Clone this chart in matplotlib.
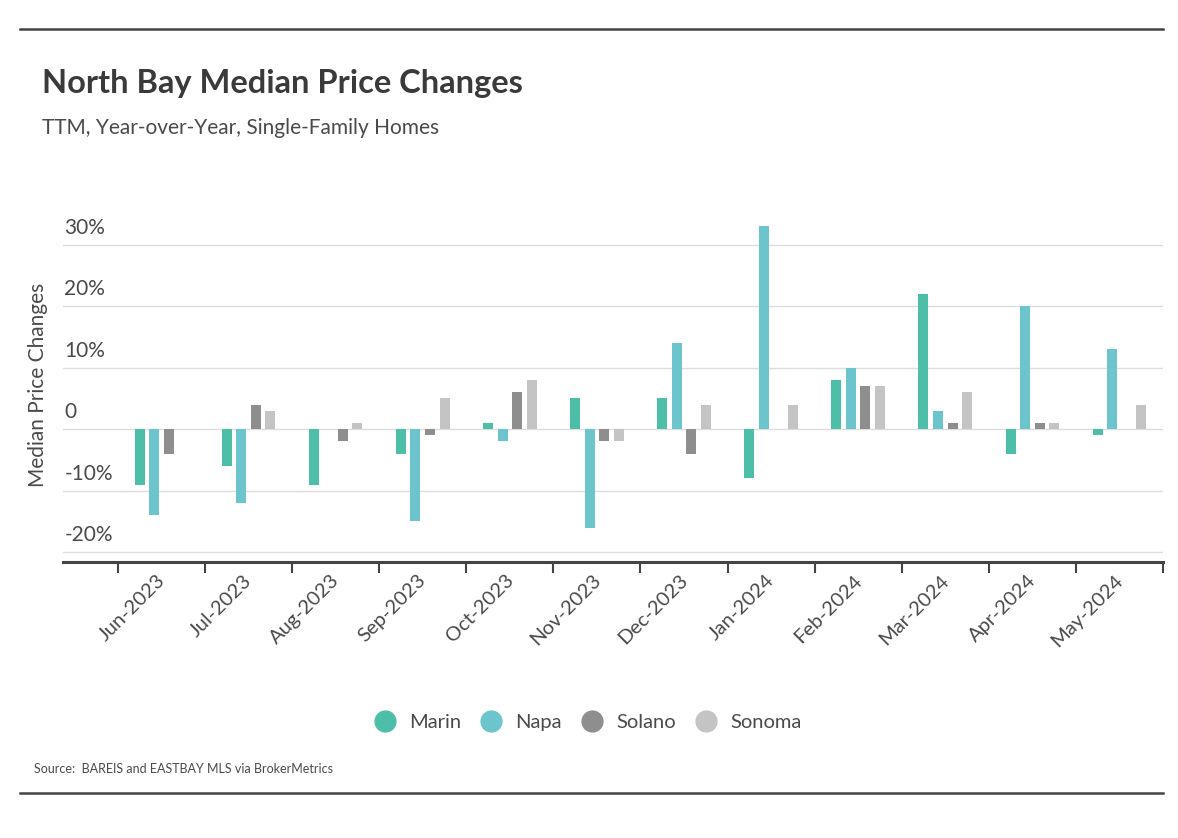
import matplotlib.pyplot as plt
import numpy as np

plt.rcParams['font.family'] = ['Lato', 'DejaVu Sans']

months = ['Jun-2023', 'Jul-2023', 'Aug-2023', 'Sep-2023', 'Oct-2023', 'Nov-2023',
          'Dec-2023', 'Jan-2024', 'Feb-2024', 'Mar-2024', 'Apr-2024', 'May-2024']
marin = [-9, -6, -9, -4, 1, 5, 5, -8, 8, 22, -4, -1]
napa = [-14, -12, 0, -15, -2, -16, 14, 33, 10, 3, 20, 13]
solano = [-4, 4, -2, -1, 6, -2, -4, 0, 7, 1, 1, 0]
sonoma = [0, 3, 1, 5, 8, -2, 4, 4, 7, 6, 1, 4]
series = ['Marin', 'Napa', 'Solano', 'Sonoma']
colors = ['#4dbfa9', '#6cc4cd', '#8e8e8e', '#c4c4c4']
yticks = [-20, -10, 0, 10, 20, 30]
ylabels = ['-20%', '-10%', '0', '10%', '20%', '30%']

txt = '#4a4a4a'
fig = plt.figure(figsize=(11.78, 8.38), dpi=100)
ax = fig.add_axes([63/1178, 1-562/838, 1100/1178, (562-214)/838])

x = np.arange(len(months))
w = 0.115
step = 0.167
for i, (vals, c) in enumerate(zip([marin, napa, solano, sonoma], colors)):
    ax.bar(x + (i - 1.5)*step, vals, width=w, color=c, zorder=3, label=series[i])

ax.set_xlim(-1.13, 11.5)
ax.set_ylim(-21.6, 35)

for s in ['top', 'right', 'left']:
    ax.spines[s].set_visible(False)
ax.spines['bottom'].set_color('#444444')
ax.spines['bottom'].set_linewidth(2.2)

ax.set_yticks(yticks)
ax.set_yticklabels([])
ax.tick_params(axis='y', length=0)
ax.grid(axis='y', color='#dddddd', linewidth=1, zorder=0)
for v, lab in zip(yticks, ylabels):
    ax.annotate(lab, xy=(0, v), xycoords=('axes fraction', 'data'),
                xytext=(1, 5), textcoords='offset points', ha='left', va='bottom',
                fontsize=15, color=txt)

# ticks between the months, labels at the centres
ax.set_xticks(np.arange(len(months) + 1) - 0.5, minor=False)
ax.set_xticklabels([])
ax.tick_params(axis='x', which='major', length=8, width=1.5, color='#444444', direction='out')
ax.set_xticks(x - 0.06, minor=True)
ax.set_xticklabels(months, minor=True, rotation=45, ha='right', rotation_mode='anchor',
                   fontsize=14.5, color=txt)
ax.tick_params(axis='x', which='minor', length=0, pad=7)

fig.text(38/1178, 1-385/838, 'Median Price Changes', rotation=90, ha='center', va='center',
         fontsize=15, color=txt)

fig.text(42/1178, 1-84/838, 'North Bay Median Price Changes', ha='left', va='center',
         fontsize=23.5, fontweight='bold', color='#3a3a3a')
fig.text(42/1178, 1-128/838, 'TTM, Year-over-Year, Single-Family Homes', ha='left', va='center',
         fontsize=15, color=txt)
fig.text(34/1178, 1-769/838, 'Source:  BAREIS and EASTBAY MLS via BrokerMetrics', ha='left',
         va='center', fontsize=9, color=txt)

handles = [plt.Line2D([], [], marker='o', linestyle='', markersize=15, color=c) for c in colors]
fig.legend(handles, series, loc='center', bbox_to_anchor=(585/1178, 1-722/838), ncol=4,
           frameon=False, fontsize=14.5, labelcolor=txt, handletextpad=0.4, columnspacing=0.7,
           handlelength=1.6)

for yy in [29, 793]:
    fig.add_artist(plt.Line2D([20/1178, 1163/1178], [1-yy/838, 1-yy/838], color='#444444',
                              linewidth=1.8))

fig.savefig('out.png', dpi=100)
